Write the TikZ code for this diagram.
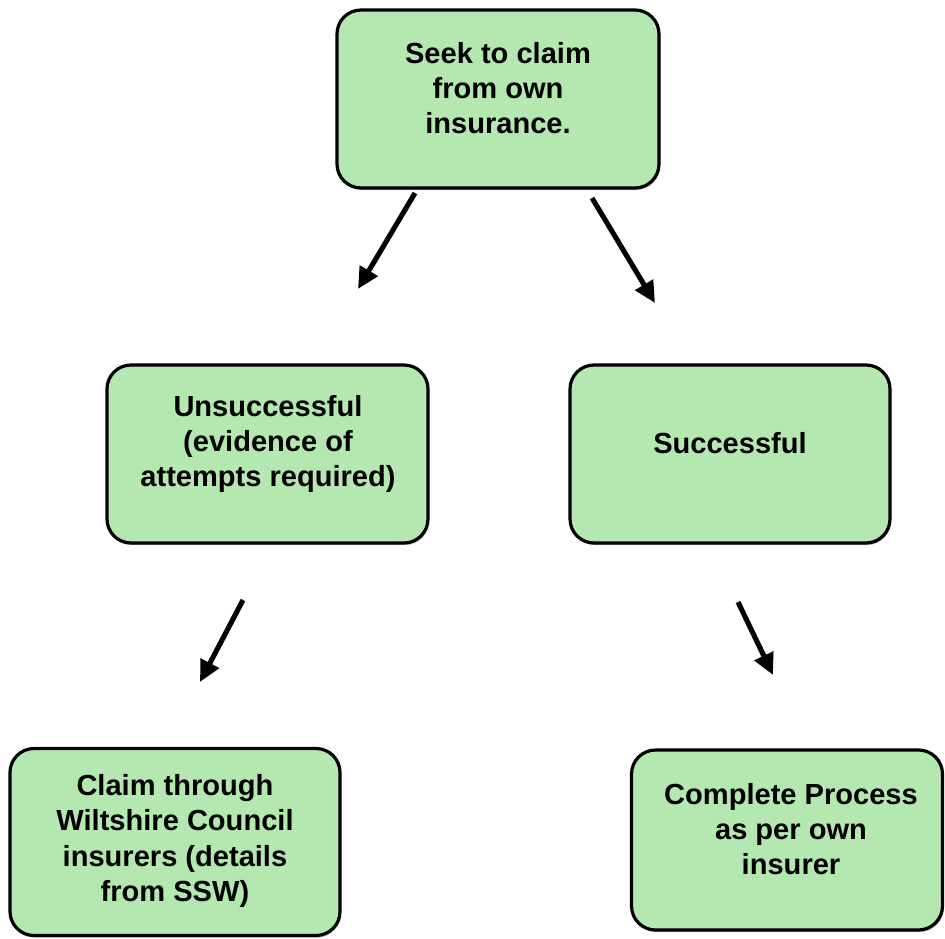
\documentclass[tikz,border=0pt]{standalone}
\usepackage{fontspec}
\setmainfont{Liberation Sans}
\usepackage{xcolor}
\usetikzlibrary{arrows.meta,shadows}
\definecolor{boxGreen}{HTML}{B5E8B0}
\tikzset{
  stepbox/.style={draw=black, line width=2.4pt, rounded corners=18pt, fill=boxGreen,
    drop shadow={shadow xshift=0.8pt, shadow yshift=-1.6pt, fill=black!45, opacity=0.6}},
  boxtext/.style={align=center, font=\fontsize{21.8}{26.3}\selectfont\bfseries, inner sep=0pt},
  arrdown/.style={-{Triangle[length=16pt, width=15pt]}, line width=3.8pt},
}
\begin{document}
\begin{tikzpicture}[x=0.75pt, y=-0.75pt]
\useasboundingbox (0,0) rectangle (945,938);

% boxes
\node[stepbox, minimum width=241.5pt, minimum height=133.5pt] (seek) at (498,99) {};
\node[stepbox, minimum width=240.75pt, minimum height=133.5pt] (unsucc) at (267.5,454) {};
\node[stepbox, minimum width=240pt, minimum height=133.5pt] (succ) at (730,454) {};
\node[stepbox, minimum width=247.5pt, minimum height=140.25pt] (claim) at (175,842) {};
\node[stepbox, minimum width=233.25pt, minimum height=135pt] (complete) at (787,840) {};

% texts
\node[boxtext] (seekTxt) at (498,88) {Seek to claim\\from own\\insurance.};
\node[boxtext] (unsuccTxt) at (268,444) {Unsuccessful\\(evidence of\\attempts required)};
\node[boxtext] (succTxt) at (730,443) {Successful};
\node[boxtext] (claimTxt) at (175,841) {Claim through\\Wiltshire Council\\insurers (details\\from SSW)};
\node[boxtext] (completeTxt) at (791,829) {Complete Process\\as per own\\insurer};

% arrows
\coordinate (a1s) at (415,193);
\coordinate (a1e) at (358,289);
\coordinate (a2s) at (592,198);
\coordinate (a2e) at (655,303);
\coordinate (a3s) at (243,600);
\coordinate (a3e) at (200,682);
\coordinate (a4s) at (738,602);
\coordinate (a4e) at (773,675);
\draw[arrdown] (a1s) -- (a1e);
\draw[arrdown] (a2s) -- (a2e);
\draw[arrdown] (a3s) -- (a3e);
\draw[arrdown] (a4s) -- (a4e);
\end{tikzpicture}
\end{document}
